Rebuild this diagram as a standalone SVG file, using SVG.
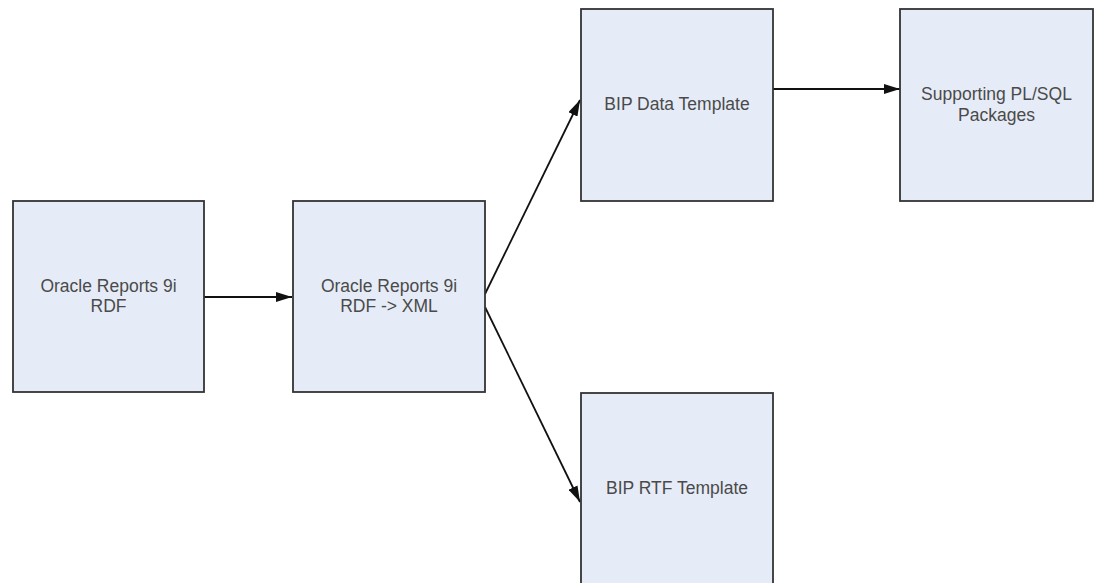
<svg xmlns="http://www.w3.org/2000/svg" width="1097" height="583" viewBox="0 0 1097 583">
<defs>
<style>
.box{fill:#E6ECF7;stroke:#333;stroke-width:1.8}
.t{font-family:"Liberation Sans",Arial,sans-serif;font-size:17.5px;fill:#4a4a4a;text-anchor:middle}
.c{stroke:#111;stroke-width:1.8;fill:none;marker-end:url(#ah)}
</style>
<marker id="ah" viewBox="0 0 16 10" refX="16" refY="5" markerWidth="16" markerHeight="10" markerUnits="userSpaceOnUse" orient="auto">
<path d="M0,0 L16,5 L0,10 Z" fill="#111"/>
</marker>
</defs>
<rect width="1097" height="583" fill="#fff"/>
<g id="connectors">
<line class="c" x1="204" y1="297" x2="292" y2="297"/>
<line class="c" x1="485" y1="294" x2="580" y2="100"/>
<line class="c" x1="485" y1="307" x2="580" y2="502"/>
<line class="c" x1="773" y1="89" x2="900" y2="89"/>
</g>
<g id="n1">
<rect class="box" x="13" y="201" width="191" height="191"/>
<text class="t" x="108.5" y="292">Oracle Reports 9i</text>
<text class="t" x="108.5" y="312">RDF</text>
</g>
<g id="n2">
<rect class="box" x="293" y="201" width="192" height="191"/>
<text class="t" x="389" y="292">Oracle Reports 9i</text>
<text class="t" x="389" y="312">RDF -&gt; XML</text>
</g>
<g id="n3">
<rect class="box" x="581" y="9" width="192" height="192"/>
<text class="t" x="677" y="110">BIP Data Template</text>
</g>
<g id="n4">
<rect class="box" x="900" y="9" width="193" height="192"/>
<text class="t" x="996.5" y="100">Supporting PL/SQL</text>
<text class="t" x="996.5" y="121">Packages</text>
</g>
<g id="n5">
<rect class="box" x="581" y="393" width="192" height="192"/>
<text class="t" x="677" y="494">BIP RTF Template</text>
</g>
</svg>
